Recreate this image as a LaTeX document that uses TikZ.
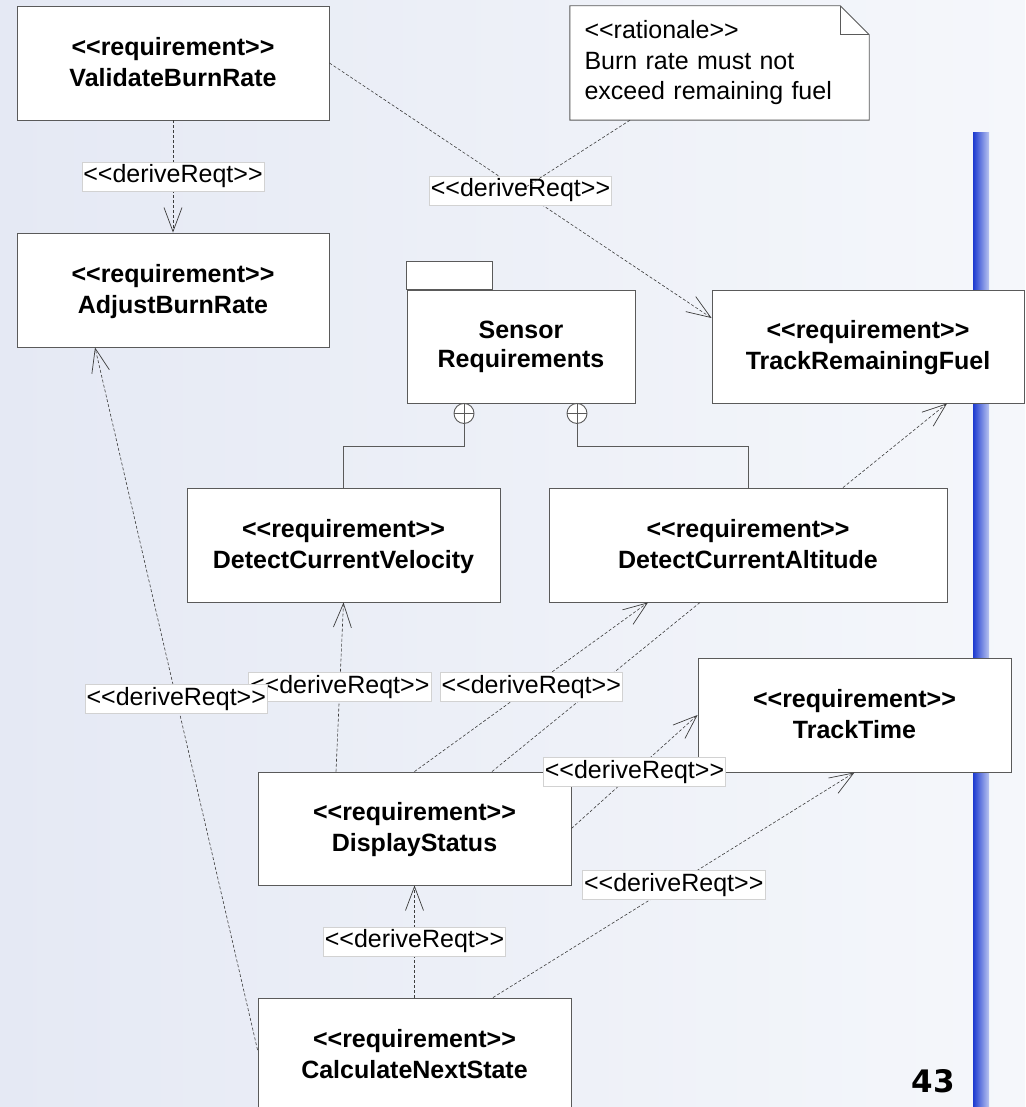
\documentclass[tikz,border=0pt]{standalone}
\usepackage{fontspec}
\setmainfont{Liberation Sans}
\newfontfamily\pagenofont{DejaVu Sans}
\usetikzlibrary{arrows.meta}

\definecolor{bgleft}{RGB}{229,233,244}
\definecolor{bgright}{RGB}{245,247,251}
\definecolor{boxline}{RGB}{90,90,90}
\definecolor{linkline}{RGB}{60,60,60}
\definecolor{tagline}{RGB}{210,210,210}
\definecolor{barblue}{RGB}{28,58,208}
\definecolor{barpale}{RGB}{185,196,240}

\pgfdeclarelayer{backdrop}
\pgfdeclarelayer{paper}
\pgfsetlayers{backdrop,paper,main}

% stereotype text, with the guillemet ligature broken up
\newcommand{\stereo}[1]{<{}<#1>{}>}
% two-line requirement label; the last line gets a fixed height and depth
\newcommand{\reqtext}[1]{\stereo{requirement}\\\smash{#1}\rule[-2.5pt]{0pt}{20.5pt}}

\begin{document}
\begin{tikzpicture}[x=1pt,y=-1pt,
  reqbox/.style={draw=boxline, line width=0.9pt, fill=white, inner sep=0pt,
    align=center, font=\fontsize{25}{31}\selectfont\bfseries},
  tag/.style={solid, draw=tagline, line width=0.5pt, fill=white, inner xsep=1.5pt,
    inner ysep=3pt, font=\fontsize{25}{30}\selectfont},
  link/.style={draw=linkline, line width=0.6pt, dash pattern=on 3pt off 2pt},
  derive/.style={link, -{Straight Barb[length=24pt,width=18pt,line width=0.7pt]}},
  nest/.style={solid, draw=boxline, line width=0.9pt},
  nestmark/.style={circle, draw=boxline, line width=0.9pt, minimum size=20pt,
    inner sep=0pt, fill=white,
    path picture={\draw[boxline, line width=0.9pt]
      (path picture bounding box.north) -- (path picture bounding box.south)
      (path picture bounding box.west) -- (path picture bounding box.east);}},
]
\clip (0,0) rectangle (1025,1107);

% backdrop and side bar
\begin{pgfonlayer}{backdrop}
  \shade[left color=bgleft, right color=bgright] (0,0) rectangle (1025,1107);
  \shade[left color=barblue, right color=barpale] (973,133) rectangle (989,1107);
\end{pgfonlayer}

% requirement blocks
\node[reqbox, minimum width=312pt, minimum height=114pt] (vbr) at (173,63)
  {\reqtext{ValidateBurnRate}};
\node[reqbox, minimum width=312pt, minimum height=114pt] (abr) at (173,290)
  {\reqtext{AdjustBurnRate}};
\node[reqbox, minimum width=312pt, minimum height=113pt] (trf) at (868,346.5)
  {\reqtext{TrackRemainingFuel}};
\node[reqbox, minimum width=313pt, minimum height=114pt] (dcv) at (343.5,545)
  {\reqtext{DetectCurrentVelocity}};
\node[reqbox, minimum width=398pt, minimum height=114pt] (dca) at (748,545)
  {\reqtext{DetectCurrentAltitude}};
\node[reqbox, minimum width=313pt, minimum height=114pt] (tt) at (854.5,715)
  {\reqtext{TrackTime}};
\node[reqbox, minimum width=313pt, minimum height=113pt] (ds) at (414.5,828.5)
  {\reqtext{DisplayStatus}};
\node[reqbox, minimum width=313pt, minimum height=114pt] (cns) at (414.5,1055)
  {\reqtext{CalculateNextState}};

% package with its tab
\node[reqbox, minimum width=228pt, minimum height=113pt,
  font=\fontsize{25}{29}\selectfont\bfseries] (pkg) at (521,346.5)
  {Sensor\\Requirements};
\draw[boxline, line width=0.9pt, fill=white]
  (pkg.north west) rectangle ([xshift=86pt,yshift=28pt]pkg.north west);

% rationale note with folded corner
\node[font=\fontsize{25}{30.5}\selectfont, align=left, text width=270pt,
  minimum width=299pt, minimum height=114pt, inner ysep=0pt, inner xsep=14pt] (note)
  at (719.5,63) {\stereo{rationale}\\Burn rate must not\\exceed remaining fuel};
\begin{pgfonlayer}{paper}
  \filldraw[draw=boxline, fill=white, line width=0.9pt]
    (note.north west) -- ([xshift=-29pt]note.north east)
    -- ([yshift=-29pt]note.north east) -- (note.south east)
    -- (note.south west) -- cycle;
\end{pgfonlayer}
\draw[boxline, line width=0.9pt]
  ([xshift=-29pt]note.north east) -- ([xshift=-29pt,yshift=-29pt]note.north east)
  -- ([yshift=-29pt]note.north east);

% containment
\node[nestmark] (n1) at ([xshift=-57pt,yshift=-10pt]pkg.south) {};
\node[nestmark] (n2) at ([xshift=56pt,yshift=-10pt]pkg.south) {};
\draw[nest] (n1.south) -- ++(0,23) -| (dcv.north);
\draw[nest] (n2.south) -- ++(0,23) -| (dca.north);

% derivations
\draw[derive] (vbr.south) -- node[tag] {\stereo{deriveReqt}} (abr.north);
\draw[derive] (vbr.east) -- node[tag] (t2) {\stereo{deriveReqt}} ([yshift=28.5pt]trf.west);
\draw[link] ([xshift=-89.5pt]note.south) -- (t2.center);

\draw[derive] ([xshift=-78.5pt]ds.north) -- node[tag] {\stereo{deriveReqt}} (dcv.south);
\draw[derive] ([yshift=5pt]cns.west) -- node[tag] {\stereo{deriveReqt}} ([xshift=-78pt]abr.south);

\draw[link] ([xshift=77.5pt]ds.north) -- ([xshift=-48pt]dca.south);
\draw[derive] (ds.north) -- node[tag] {\stereo{deriveReqt}} ([xshift=-100pt]dca.south);

\draw[derive] (ds.east) -- node[tag] {\stereo{deriveReqt}} (tt.west);
\draw[derive] ([xshift=78.5pt]cns.north) -- node[tag] {\stereo{deriveReqt}} (tt.south);
\draw[derive] (cns.north) -- node[tag] {\stereo{deriveReqt}} (ds.south);
\draw[derive] ([xshift=95pt]dca.north) -- ([xshift=79pt]trf.south);

% page number
\node[font=\pagenofont\fontsize{31}{31}\selectfont\bfseries] (pg) at (933,1081) {43};
\end{tikzpicture}
\end{document}
